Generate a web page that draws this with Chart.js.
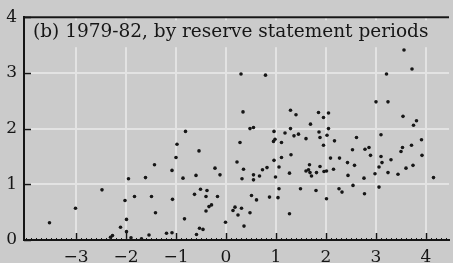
<!DOCTYPE html>
<html>
<head>
<meta charset="utf-8">
<script src="https://cdn.jsdelivr.net/npm/chart.js@4.4.0/dist/chart.umd.min.js"></script>
<style>
  html, body { margin: 0; padding: 0; background: #cbcbcb; }
  #wrap { width: 453px; height: 263px; }
</style>
</head>
<body>
<div id="wrap"><canvas id="myChart"></canvas></div>
<script>
'use strict'

// values, one point per reserve statement period
const xValues = [
  -3.53, -3.01, -2.48, -2.31, -2.27, -2.11, -2.02, -1.99, -1.99, -1.95,
  -1.90, -1.83, -1.69, -1.61, -1.54, -1.49, -1.43, -1.41, -1.19, -1.08,
  -1.08, -1.07, -1.00, -0.98, -0.86, -0.83, -0.81, -0.63, -0.60, -0.59,
  -0.54, -0.53, -0.51, -0.46, -0.40, -0.40, -0.38, -0.34, -0.29, -0.22,
  -0.17, -0.12, -0.01, 0.14, 0.18,
  0.22, 0.24, 0.28, 0.30, 0.31, 0.32, 0.34, 0.35, 0.36, 0.48,
  0.48, 0.51, 0.55, 0.55, 0.55, 0.61, 0.67, 0.73, 0.79, 0.82,
  0.87, 0.95, 0.96, 0.96, 0.98, 0.99, 1.04, 1.06, 1.06, 1.11,
  1.11, 1.18, 1.27, 1.27, 1.29, 1.29, 1.30, 1.36, 1.40, 1.45,
  1.49, 1.60, 1.60, 1.65, 1.67, 1.68, 1.69, 1.71, 1.80, 1.81,
  1.85, 1.86, 1.88, 1.88, 1.95, 1.95, 1.96, 2.01, 2.01, 2.02,
  2.05, 2.05, 2.09, 2.15, 2.17, 2.26, 2.27, 2.32,
  2.43, 2.44, 2.53, 2.54, 2.57, 2.61, 2.76, 2.77, 2.78, 2.86,
  2.89, 2.98, 3.00, 3.06, 3.06, 3.10, 3.10, 3.12, 3.21, 3.24,
  3.24, 3.30, 3.44, 3.50, 3.53, 3.54, 3.56, 3.60, 3.71, 3.72,
  3.74, 3.75, 3.81, 3.91, 3.92, 4.15
];
const yValues = [
  0.31, 0.57, 0.90, 0.05, 0.08, 0.23, 0.71, 0.37, 0.15, 1.10,
  0.04, 0.78, 0.02, 1.12, 0.09, 0.78, 1.35, 0.49, 0.12, 0.13,
  1.25, 0.73, 1.48, 1.72, 1.11, 0.38, 1.95, 0.82, 1.16, 0.10,
  1.60, 0.21, 0.91, 0.19, 0.78, 0.52, 0.89, 0.60, 0.63, 1.29,
  0.78, 1.17, 0.32, 0.53, 0.59,
  1.40, 0.45, 1.75, 2.98, 0.57, 1.10, 2.30, 1.27, 0.25, 2.00,
  0.49, 0.80, 2.02, 1.17, 1.08, 0.72, 1.15, 1.26, 2.96, 1.30,
  0.77, 1.77, 1.95, 1.43, 1.81, 1.13, 0.76, 1.31, 0.92, 1.75,
  1.48, 1.92, 1.20, 0.47, 2.00, 2.33, 1.53, 1.87, 2.25, 1.90,
  0.92, 1.82, 1.24, 1.26, 1.35, 1.21, 2.08, 1.15, 0.89, 1.21,
  2.29, 1.94, 1.84, 1.32, 1.70, 2.20, 1.23, 1.24, 0.74, 1.88,
  2.00, 2.28, 1.47, 1.27, 1.78, 0.92, 1.47, 0.86,
  1.39, 1.16, 1.62, 0.98, 1.34, 1.84, 1.11, 0.83, 1.63, 1.66,
  1.52, 1.19, 2.48, 1.31, 0.95, 1.89, 1.50, 1.39, 2.98, 2.48,
  1.21, 1.44, 1.18, 1.59, 1.66, 2.22, 3.41, 1.29, 1.70, 3.07,
  1.34, 2.06, 2.14, 1.80, 1.52, 1.12
];
const xTicks = [-3, -2, -1, 0, 1, 2, 3, 4];
const yTicks = [0, 1, 2, 3, 4];
const titleText = '(b) 1979-82, by reserve statement periods';

const bgColor = '#cbcbcb';
const inkColor = '#161616';
const gridColor = '#e3e3e3';
const labelFont = { family: '"DejaVu Serif", serif', size: 17 };

let points = [];
for (let i = 0; i < xValues.length; i++) {
  points.push({ x: xValues[i], y: yValues[i] });
}

// title box, top border and the short inward ticks
const framePlugin = {
  id: 'frame',
  beforeDatasetsDraw(chart) {
    const ctx = chart.ctx;
    const area = chart.chartArea;
    const xScale = chart.scales.x;
    const yScale = chart.scales.y;
    ctx.save();

    ctx.fillStyle = bgColor;
    ctx.fillRect(area.left + 4, area.top + 3, 412, 27);
    ctx.font = '18.5px "DejaVu Serif"';
    ctx.fillStyle = inkColor;
    ctx.textBaseline = 'alphabetic';
    ctx.fillText(titleText, 33, 37);

    ctx.strokeStyle = inkColor;
    ctx.lineWidth = 2;
    ctx.beginPath();
    ctx.moveTo(area.left - 1, area.top);
    ctx.lineTo(area.right, area.top);
    ctx.stroke();

    ctx.lineWidth = 1.5;
    ctx.beginPath();
    for (let v of xTicks) {
      const px = Math.round(xScale.getPixelForValue(v)) + 0.5;
      ctx.moveTo(px, area.bottom);
      ctx.lineTo(px, area.bottom - 7);
    }
    for (let v of yTicks) {
      const py = Math.round(yScale.getPixelForValue(v)) + 0.5;
      ctx.moveTo(area.left, py);
      ctx.lineTo(area.left + 7, py);
    }
    ctx.stroke();

    ctx.lineWidth = 1;
    ctx.beginPath();
    for (let t = -40; t <= 44; t++) {
      const px = Math.round(xScale.getPixelForValue(t / 10)) + 0.5;
      if (px < area.left + 2) continue;
      ctx.moveTo(px, area.bottom);
      ctx.lineTo(px, area.bottom - 2);
    }
    ctx.stroke();
    ctx.restore();
  }
};

const config = {
  type: 'scatter',
  data: {
    datasets: [{
      data: points,
      pointRadius: 1.8,
      pointBackgroundColor: inkColor,
      pointBorderWidth: 0
    }]
  },
  options: {
    responsive: true,
    maintainAspectRatio: false,
    animation: false,
    layout: { padding: { top: 14, left: 0, right: 0, bottom: 0 } },
    plugins: { legend: { display: false }, tooltip: { enabled: false } },
    scales: {
      x: {
        type: 'linear',
        min: -4.04,
        max: 4.46,
        afterBuildTicks: (scale) => { scale.ticks = xTicks.map(v => ({ value: v })); },
        afterFit: (scale) => { scale.height = 23; },
        grid: { color: gridColor, lineWidth: 2, drawTicks: false },
        border: { display: true, color: inkColor, width: 2 },
        ticks: {
          padding: 7,
          autoSkip: false,
          maxRotation: 0,
          color: inkColor,
          font: labelFont,
          callback: (v) => v < 0 ? '\u2212' + Math.abs(v) : String(v)
        }
      },
      y: {
        type: 'linear',
        min: 0,
        max: 4,
        afterBuildTicks: (scale) => { scale.ticks = yTicks.map(v => ({ value: v })); },
        afterFit: (scale) => { scale.width = 24; },
        grid: { color: gridColor, lineWidth: 2, drawTicks: false },
        border: { display: true, color: inkColor, width: 2 },
        ticks: {
          padding: 7,
          color: inkColor,
          font: labelFont,
          callback: (v) => String(v)
        }
      }
    }
  },
  plugins: [framePlugin]
};

const myChart = new Chart(document.getElementById('myChart'), config);
</script>
</body>
</html>
